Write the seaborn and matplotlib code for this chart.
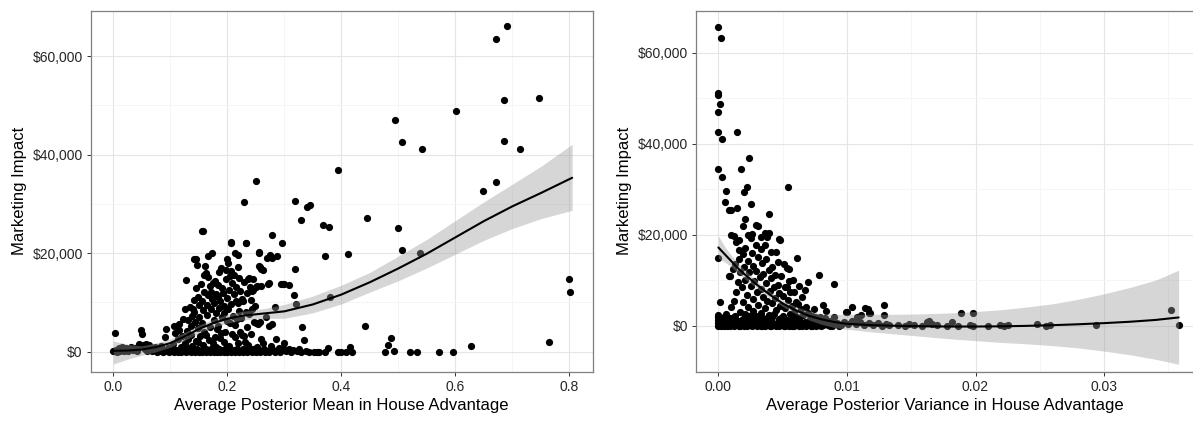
import matplotlib
matplotlib.use("Agg")
import matplotlib.pyplot as plt
from matplotlib.ticker import FuncFormatter, MultipleLocator
import seaborn as sns
import pandas as pd

# ---------------- data: left panel (posterior mean vs marketing impact) ----------------
left_outliers = [
    (0.690, 66100), (0.671, 63500), (0.686, 51000), (0.747, 51400), (0.494, 47100),
    (0.601, 48900), (0.506, 42600), (0.541, 41100), (0.685, 42800), (0.714, 41200),
    (0.395, 36900), (0.250, 34600), (0.649, 32700), (0.671, 34400), (0.229, 30400),
    (0.319, 30600), (0.340, 29400), (0.345, 29800), (0.330, 26800), (0.446, 27200),
    (0.368, 25800), (0.379, 25400), (0.499, 25200), (0.157, 24600), (0.278, 23600),
    (0.296, 22000), (0.207, 22200), (0.232, 22100), (0.507, 20700), (0.371, 19500),
    (0.411, 19800), (0.538, 20100), (0.800, 14700), (0.802, 12100), (0.318, 16800),
    (0.317, 11500), (0.298, 13700), (0.308, 13500), (0.381, 11100), (0.320, 9600),
    (0.441, 5200), (0.331, 5000), (0.335, 2300), (0.487, 2800), (0.482, 1400),
    (0.627, 1200), (0.764, 2000), (0.415, 1000), (0.377, 700),
]
left_cluster = [
    (0.100, 600), (0.104, 1500), (0.107, 5300), (0.109, 3900), (0.112, 200), (0.114, 2500),
    (0.116, 5600), (0.116, 4400), (0.118, 900), (0.120, 3200),
    (0.121, 300), (0.123, 6600), (0.125, 8600), (0.126, 1800), (0.128, 14500), (0.129, 4200),
    (0.130, 700), (0.131, 6400), (0.132, 2600), (0.134, 9100), (0.135, 200), (0.136, 5200),
    (0.137, 3500), (0.138, 7300), (0.139, 1200),
    (0.140, 8600), (0.141, 8100), (0.142, 10500), (0.142, 18900), (0.143, 400), (0.144, 6000),
    (0.145, 2200), (0.146, 18800), (0.146, 12900), (0.147, 17600), (0.148, 4800), (0.148, 11200),
    (0.149, 2000), (0.150, 9500), (0.151, 7000), (0.152, 100), (0.153, 3300), (0.154, 13800),
    (0.155, 5800), (0.156, 24500), (0.156, 10200), (0.157, 1300), (0.158, 8400), (0.159, 15600),
    (0.160, 4000), (0.160, 12100),
    (0.161, 17400), (0.162, 16000), (0.162, 600), (0.163, 3400), (0.164, 7400), (0.165, 9400),
    (0.166, 19400), (0.166, 15100), (0.167, 11500), (0.168, 2400), (0.169, 13300), (0.170, 5100),
    (0.171, 12200), (0.172, 8600), (0.172, 200), (0.173, 10700), (0.174, 20100), (0.175, 1700),
    (0.175, 14000), (0.176, 6500), (0.177, 9900), (0.178, 3000), (0.179, 14400), (0.180, 11800),
    (0.180, 7800),
    (0.181, 900), (0.182, 4600), (0.183, 13600), (0.184, 11200), (0.184, 5300), (0.185, 16200),
    (0.186, 8900), (0.187, 2700), (0.188, 10400), (0.189, 16900), (0.189, 3900), (0.190, 13000),
    (0.191, 7100), (0.192, 400), (0.193, 12000), (0.194, 9300), (0.195, 7900), (0.195, 2000),
    (0.196, 4000), (0.197, 16600), (0.198, 14700), (0.199, 18900), (0.199, 6200), (0.200, 11000),
    (0.201, 18100), (0.202, 8700), (0.203, 12500), (0.203, 1100), (0.204, 5800), (0.205, 15300),
    (0.206, 16400), (0.206, 22100), (0.207, 9700), (0.208, 3700), (0.209, 13900), (0.210, 7200),
    (0.211, 300), (0.212, 15500), (0.212, 11800), (0.213, 5400), (0.213, 20100), (0.214, 2900),
    (0.215, 10300), (0.216, 13100), (0.217, 6700), (0.218, 9800), (0.218, 17200), (0.219, 19700),
    (0.219, 1700), (0.220, 8200),
    (0.221, 14900), (0.222, 12300), (0.223, 4000), (0.224, 6900), (0.225, 3400), (0.226, 10800),
    (0.227, 600), (0.228, 10300), (0.229, 3100), (0.230, 14200), (0.231, 2000), (0.232, 22000),
    (0.233, 8000), (0.234, 11900), (0.235, 5000), (0.236, 14800), (0.237, 1400), (0.238, 15000),
    (0.239, 7600), (0.240, 13200),
    (0.241, 10500), (0.242, 3700), (0.243, 12400), (0.244, 8600), (0.245, 12500), (0.246, 14700),
    (0.247, 6000), (0.248, 200), (0.249, 9200), (0.250, 5800), (0.251, 13200), (0.252, 900),
    (0.253, 13400), (0.254, 5700), (0.255, 20300), (0.256, 17500), (0.256, 20000), (0.257, 17300),
    (0.258, 6100), (0.259, 16800), (0.259, 2500), (0.260, 13300),
    (0.262, 1800), (0.263, 16500), (0.265, 500), (0.268, 7000), (0.270, 19000), (0.271, 13700),
    (0.273, 5300), (0.274, 14000), (0.275, 19700), (0.276, 1200), (0.278, 5600), (0.278, 19000),
    (0.280, 300), (0.283, 9000), (0.285, 2600), (0.287, 19500), (0.290, 800), (0.294, 13700),
    (0.295, 400), (0.300, 1700), (0.300, 13800),
]
left_floor = [
    (0.000, 200), (0.002, 100), (0.003, 3900), (0.004, 400), (0.006, 0), (0.008, 300),
    (0.010, 700), (0.012, 200), (0.015, 900), (0.018, 100), (0.020, 500), (0.023, 800),
    (0.026, 200), (0.029, 600), (0.032, 900), (0.035, 300), (0.038, 700), (0.041, 100),
    (0.044, 1000), (0.046, 1500), (0.048, 4400), (0.050, 3700), (0.052, 1300), (0.055, 500),
    (0.058, 1600), (0.060, 200), (0.062, 1400), (0.065, 800), (0.068, 100), (0.070, 400),
    (0.073, 1000), (0.076, 0), (0.078, 600), (0.080, 200), (0.083, 1100), (0.085, 300),
    (0.088, 0), (0.090, 2900), (0.092, 4700), (0.094, 200), (0.096, 800), (0.098, 0),
    (0.102, 100), (0.106, 0), (0.110, 400), (0.113, 0), (0.117, 200), (0.119, 0),
    (0.122, 500), (0.124, 100), (0.127, 0), (0.133, 300), (0.136, 0), (0.140, 100),
    (0.144, 0), (0.147, 600), (0.150, 0), (0.153, 200), (0.156, 0), (0.159, 400),
    (0.163, 0), (0.166, 100), (0.169, 0), (0.173, 700), (0.176, 0), (0.179, 200),
    (0.182, 0), (0.185, 500), (0.188, 0), (0.191, 100), (0.194, 0), (0.197, 800),
    (0.200, 0), (0.204, 300), (0.207, 0), (0.210, 100), (0.214, 0), (0.217, 500),
    (0.221, 0), (0.224, 200), (0.228, 0), (0.232, 400), (0.235, 0), (0.239, 100),
    (0.243, 0), (0.246, 600), (0.250, 0), (0.254, 200), (0.258, 0), (0.262, 300),
    (0.266, 0), (0.270, 100), (0.274, 0), (0.279, 400), (0.284, 0), (0.288, 200),
    (0.293, 0), (0.298, 800), (0.303, 100), (0.308, 500), (0.312, 0), (0.316, 300),
    (0.322, 100), (0.326, 600), (0.330, 0), (0.338, 100), (0.344, 0), (0.353, 0),
    (0.357, 0), (0.361, 0), (0.372, 0), (0.394, 0), (0.400, 0), (0.408, 0), (0.418, 0),
    (0.476, 0), (0.492, 200), (0.520, 0), (0.532, 0), (0.571, 0), (0.596, 0),
]

# loess fit (left)
fit_x_left = [0.0, 0.025, 0.05, 0.075, 0.10, 0.125, 0.15, 0.175, 0.20, 0.225, 0.25, 0.275,
              0.30, 0.35, 0.40, 0.45, 0.50, 0.55, 0.60, 0.65, 0.70, 0.75, 0.805]
fit_y_left = [200, 250, 450, 950, 1750, 3100, 4600, 5800, 6700, 7300, 7600, 7900,
              8200, 9600, 11600, 14100, 16900, 19900, 23200, 26500, 29500, 32200, 35300]
fit_lo_left = [-2500, -1500, -700, 0, 900, 2300, 3800, 5000, 5800, 6400, 6700, 6800,
               6800, 7900, 9700, 12100, 14400, 17000, 19800, 22600, 25000, 27000, 28700]
fit_hi_left = [2200, 1500, 1200, 1800, 2600, 3900, 5400, 6600, 7600, 8200, 8500, 9000,
               9600, 11300, 13500, 16100, 19400, 22800, 26600, 30400, 34000, 37600, 42100]

# ---------------- data: right panel (posterior variance vs marketing impact) ----------------
right_outliers = [
    (0.0000, 65800), (0.0002, 63200), (0.0000, 51200), (0.0000, 50800), (0.00016, 48700),
    (0.0000, 47000), (0.0000, 42700), (0.00144, 42500), (0.00026, 41000), (0.00235, 36800),
    (0.0000, 34400), (0.00175, 34500), (0.0003, 32700), (0.00543, 30400), (0.00057, 29700),
    (0.0022, 30600), (0.0020, 29300), (0.0005, 27200), (0.0025, 26700), (0.0008, 25400),
    (0.0010, 25500), (0.00144, 25800), (0.0039, 24500), (0.0021, 23500), (0.0019, 22000),
    (0.0029, 22100), (0.0031, 22000), (0.0010, 20000), (0.0012, 19700), (0.0036, 20300),
    (0.0039, 20300), (0.0047, 19000), (0.0016, 18900), (0.0023, 20000), (0.0026, 20200),
    (0.0033, 19500), (0.0038, 19400), (0.0000, 14800), (0.0061, 14900), (0.0078, 11100),
    (0.0090, 9100), (0.0070, 9500), (0.0067, 7900), (0.0001, 5300),
]
right_tail = [
    (0.0104, 4000), (0.0100, 3100), (0.0129, 4600), (0.0114, 3800), (0.0116, 3600),
    (0.0118, 2700), (0.0129, 2300), (0.0081, 4600), (0.0084, 3300), (0.0074, 3600),
    (0.0189, 2700), (0.0198, 2700), (0.0352, 3500), (0.0358, 200), (0.0294, 100),
    (0.0099, 3100), (0.0117, 2800), (0.0108, 2000), (0.0111, 2400),
    (0.0092, 600), (0.0095, 200), (0.0098, 900), (0.0101, 400), (0.0104, 1100),
    (0.0107, 300), (0.0110, 700), (0.0113, 100), (0.0117, 500), (0.0120, 200),
    (0.0124, 600), (0.0127, 0), (0.0130, 300), (0.0133, 100), (0.0140, 200),
    (0.0145, 0), (0.0148, 300), (0.0152, 100), (0.0158, 0), (0.0162, 700),
    (0.0164, 1000), (0.0166, 400), (0.0170, 100), (0.0178, 0), (0.0182, 800),
    (0.0186, 0), (0.0196, 200), (0.0198, 0), (0.0210, 0), (0.0219, 200),
    (0.0222, 0), (0.0225, 100), (0.0248, 300), (0.0255, 0), (0.0258, 200),
]
right_cluster = [
    (0.0000, 0), (0.0000, 600), (0.0000, 1200), (0.0000, 1800), (0.0000, 2300),
    (0.0001, 300), (0.0001, 900), (0.0002, 0), (0.0002, 1500), (0.0003, 500),
    (0.0004, 0), (0.0005, 1000), (0.0006, 300), (0.0006, 2600), (0.0007, 0), (0.0008, 600),
    (0.0008, 10900), (0.0009, 11000), (0.0009, 1700), (0.0010, 200), (0.0010, 4000),
    (0.0011, 800), (0.0011, 12400), (0.0012, 0), (0.0012, 5500), (0.0013, 2200),
    (0.0013, 13600), (0.0014, 400), (0.0014, 18500), (0.0014, 7300), (0.0015, 1100),
    (0.0015, 9500), (0.0016, 16600), (0.0016, 14700), (0.0016, 0), (0.0017, 3100),
    (0.0017, 11700), (0.0018, 600), (0.0018, 8400), (0.0019, 15800), (0.0019, 5200),
    (0.0019, 1500), (0.0020, 12900), (0.0020, 0),
    (0.0021, 17000), (0.0021, 10100), (0.0021, 2600), (0.0022, 6800), (0.0022, 300),
    (0.0023, 14300), (0.0023, 4200), (0.0024, 900), (0.0024, 11800), (0.0025, 19200),
    (0.0025, 8700), (0.0025, 1900), (0.0026, 15900), (0.0026, 0), (0.0027, 13200),
    (0.0027, 5900), (0.0027, 3300), (0.0028, 9800), (0.0028, 600), (0.0029, 17800),
    (0.0029, 12100), (0.0029, 2100), (0.0030, 7500), (0.0030, 0),
    (0.0031, 15200), (0.0031, 4600), (0.0031, 1200), (0.0032, 10600), (0.0032, 300),
    (0.0033, 16800), (0.0033, 8100), (0.0033, 2800), (0.0034, 13700), (0.0034, 0),
    (0.0035, 6300), (0.0035, 11400), (0.0035, 1600), (0.0036, 17700), (0.0036, 3900),
    (0.0036, 700), (0.0037, 9300), (0.0037, 14600), (0.0038, 5400), (0.0038, 200),
    (0.0039, 12300), (0.0039, 2400), (0.0040, 7700), (0.0040, 0),
    (0.0041, 16300), (0.0041, 10400), (0.0041, 1000), (0.0042, 4900), (0.0042, 13000),
    (0.0043, 300), (0.0043, 8600), (0.0043, 2600), (0.0044, 11200), (0.0044, 6000),
    (0.0045, 16300), (0.0045, 0), (0.0045, 3500), (0.0046, 9000), (0.0046, 14000),
    (0.0047, 1400), (0.0047, 7100), (0.0048, 18800), (0.0048, 4400), (0.0049, 500),
    (0.0049, 10900), (0.0050, 2100), (0.0050, 6600),
    (0.0051, 13600), (0.0051, 0), (0.0052, 8500), (0.0052, 3800), (0.0053, 8600),
    (0.0053, 1200), (0.0053, 12600), (0.0054, 5600), (0.0054, 300), (0.0055, 12400),
    (0.0055, 9800), (0.0056, 2500), (0.0056, 7300), (0.0057, 0), (0.0057, 4400),
    (0.0058, 10100), (0.0058, 1600), (0.0059, 7500), (0.0059, 3100), (0.0060, 600),
    (0.0060, 5300),
    (0.0061, 2000), (0.0062, 4700), (0.0062, 300), (0.0063, 8800), (0.0063, 1400),
    (0.0064, 3600), (0.0065, 0), (0.0065, 6200), (0.0066, 2400), (0.0067, 900),
    (0.0068, 4000), (0.0069, 200), (0.0070, 2800),
    (0.0071, 1500), (0.0072, 0), (0.0073, 2200), (0.0074, 600), (0.0075, 1800),
    (0.0076, 0), (0.0077, 1200), (0.0078, 300), (0.0079, 2000), (0.0080, 0),
    (0.0082, 900), (0.0083, 1600), (0.0085, 200), (0.0086, 1100), (0.0088, 0),
    (0.0089, 700), (0.0090, 1800),
]
right_floor = [
    (0.0001, 100), (0.0003, 1300), (0.0004, 2000), (0.0005, 100), (0.0007, 1400),
    (0.0009, 0), (0.0010, 700), (0.0012, 1800), (0.0013, 100), (0.0015, 500),
    (0.0017, 0), (0.0018, 1200), (0.0020, 400), (0.0022, 0), (0.0023, 1000),
    (0.0024, 2200), (0.0026, 500), (0.0028, 1500), (0.0030, 300), (0.0032, 1900),
    (0.0033, 0), (0.0034, 800), (0.0036, 0), (0.0037, 1300), (0.0039, 400),
    (0.0041, 0), (0.0042, 2000), (0.0044, 200), (0.0046, 900), (0.0047, 0),
    (0.0049, 1600), (0.0050, 200), (0.0052, 0), (0.0054, 1100), (0.0055, 0),
    (0.0057, 800), (0.0059, 0), (0.0061, 500), (0.0063, 0), (0.0066, 600),
    (0.0068, 0), (0.0070, 400), (0.0073, 0), (0.0075, 500), (0.0078, 900),
    (0.0081, 100), (0.0084, 400), (0.0087, 0), (0.0091, 300), (0.0094, 0),
]

fit_x_right = [0.0, 0.0005, 0.001, 0.0015, 0.002, 0.003, 0.004, 0.005, 0.006, 0.007, 0.008,
               0.009, 0.010, 0.012, 0.014, 0.016, 0.018, 0.020, 0.022, 0.024, 0.026, 0.028,
               0.030, 0.032, 0.034, 0.0358]
fit_y_right = [17200, 15700, 14200, 12700, 11400, 9000, 6800, 4900, 3400, 2200, 1400,
               800, 400, 100, -50, -150, -200, -200, -150, -50, 100, 300,
               550, 850, 1250, 1800]
fit_lo_right = [14800, 14000, 12900, 11600, 10400, 8200, 6100, 4200, 2600, 1300, 300,
                -400, -800, -1400, -1900, -2400, -2900, -3300, -3700, -4000, -4400, -4900,
                -5600, -6400, -7400, -8500]
fit_hi_right = [19700, 17400, 15500, 13800, 12400, 9800, 7500, 5600, 4200, 3200, 2600,
                2500, 2500, 2500, 2500, 2600, 2800, 3100, 3500, 4100, 4800, 5800,
                7000, 8400, 10000, 12200]

x_ticks_left = [0.0, 0.2, 0.4, 0.6, 0.8]
x_ticks_right = [0.00, 0.01, 0.02, 0.03]
y_ticks = [0, 20000, 40000, 60000]

# ---------------- style ----------------
sns.set_theme(style="white")
plt.rcParams["font.family"] = ["Liberation Sans", "DejaVu Sans"]

fig = plt.figure(figsize=(11.93, 4.26), dpi=100)
ax_l = fig.add_axes([0.0760, 0.1268, 0.4208, 0.8481])
ax_r = fig.add_axes([0.5834, 0.1268, 0.4175, 0.8481])

def to_df(*groups):
    rows = [p for g in groups for p in g]
    return pd.DataFrame(rows, columns=["x", "y"])

def draw(ax, pts, fx, fy, flo, fhi, xlim, ylim, xticks, xminor, xfmt, xlabel):
    ax.set_axisbelow(True)
    sns.scatterplot(data=pts, x="x", y="y", ax=ax, color="black", s=27,
                    linewidth=0, zorder=2, legend=False)
    ax.fill_between(fx, flo, fhi, color="#999999", alpha=0.4, linewidth=0, zorder=3)
    fit = pd.DataFrame({"x": fx, "y": fy})
    sns.lineplot(data=fit, x="x", y="y", ax=ax, color="black", linewidth=1.5,
                 sort=False, estimator=None, zorder=4)
    ax.set_xlim(*xlim)
    ax.set_ylim(*ylim)
    ax.set_xticks(xticks)
    ax.xaxis.set_minor_locator(MultipleLocator(xminor))
    ax.set_yticks(y_ticks)
    ax.yaxis.set_minor_locator(MultipleLocator(10000))
    ax.xaxis.set_major_formatter(FuncFormatter(xfmt))
    ax.yaxis.set_major_formatter(FuncFormatter(lambda v, _: f"${v:,.0f}"))
    ax.grid(True, which="major", color="#E5E5E5", linewidth=0.8, zorder=0)
    ax.grid(True, which="minor", color="#F4F4F4", linewidth=0.6, zorder=0)
    for sp in ax.spines.values():
        sp.set_visible(True)
        sp.set_color("#7F7F7F")
        sp.set_linewidth(0.9)
    ax.tick_params(axis="both", which="major", length=3.2, width=0.7, color="#333333",
                   labelsize=10, labelcolor="#262626", pad=2.5, bottom=True, left=True)
    ax.tick_params(axis="both", which="minor", length=0)
    ax.set_xlabel(xlabel, fontsize=12, color="black", labelpad=3)
    ax.set_ylabel("Marketing Impact", fontsize=12, color="black", labelpad=4)

draw(ax_l, to_df(left_floor, left_cluster, left_outliers),
     fit_x_left, fit_y_left, fit_lo_left, fit_hi_left,
     (-0.0396, 0.841), (-4100, 69200), x_ticks_left, 0.1,
     lambda v, _: f"{v:.1f}", "Average Posterior Mean in House Advantage")

draw(ax_r, to_df(right_floor, right_cluster, right_tail, right_outliers),
     fit_x_right, fit_y_right, fit_lo_right, fit_hi_right,
     (-0.00174, 0.0370), (-10200, 69300), x_ticks_right, 0.005,
     lambda v, _: f"{v:.2f}", "Average Posterior Variance in House Advantage")

fig.savefig("out.png", dpi=100)
